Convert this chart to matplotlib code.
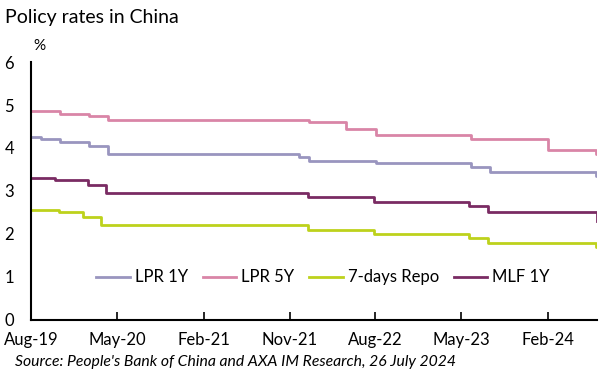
import numpy as np
import pandas as pd
import matplotlib.pyplot as plt
import matplotlib.dates as mdates

plt.rcParams['font.family'] = ['Lato', 'DejaVu Sans']

# change dates and new levels (%) of each policy rate
start = "2019-08-20"
end = "2024-07-26"

lpr1y_dates = [start, "2019-09-20", "2019-11-20", "2020-02-20", "2020-04-20",
               "2021-12-20", "2022-01-20", "2022-08-22", "2023-06-20",
               "2023-08-21", "2024-07-22"]
lpr1y_vals = [4.25, 4.20, 4.15, 4.05, 3.85, 3.80, 3.70, 3.65, 3.55, 3.45, 3.35]

lpr5y_dates = [start, "2019-11-20", "2020-02-20", "2020-04-20", "2022-01-20",
               "2022-05-20", "2022-08-22", "2023-06-20", "2024-02-20",
               "2024-07-22"]
lpr5y_vals = [4.85, 4.80, 4.75, 4.65, 4.60, 4.45, 4.30, 4.20, 3.95, 3.85]

repo_dates = [start, "2019-11-18", "2020-02-03", "2020-03-30", "2022-01-17",
              "2022-08-15", "2023-06-13", "2023-08-15", "2024-07-22"]
repo_vals = [2.55, 2.50, 2.40, 2.20, 2.10, 2.00, 1.90, 1.80, 1.70]

mlf_dates = [start, "2019-11-05", "2020-02-17", "2020-04-15", "2022-01-17",
             "2022-08-15", "2023-06-15", "2023-08-15", "2024-07-25"]
mlf_vals = [3.30, 3.25, 3.15, 2.95, 2.85, 2.75, 2.65, 2.50, 2.30]

series = [
    ("LPR 1Y", lpr1y_dates, lpr1y_vals, "#9995bf"),
    ("LPR 5Y", lpr5y_dates, lpr5y_vals, "#d985a7"),
    ("7-days Repo", repo_dates, repo_vals, "#bdd21c"),
    ("MLF 1Y", mlf_dates, mlf_vals, "#7a2b63"),
]

fig = plt.figure(figsize=(6.15, 3.79), dpi=100)
ax = fig.add_axes([0.0504, 0.1557, 0.9206, 0.6807])

for name, d, v, col in series:
    x = list(pd.to_datetime(d)) + [pd.Timestamp(end)]
    y = list(v) + [v[-1]]
    ax.plot(x, y, drawstyle="steps-post", color=col, lw=2.0, label=name)

ax.set_xlim(pd.Timestamp(start), pd.Timestamp(end))
ax.set_ylim(0, 6)
ax.set_yticks(range(0, 7))

# a tick every 9 months, on the 20th
ticks = pd.date_range("2019-08-01", end, freq="9MS") + pd.Timedelta(days=19)
ax.set_xticks(ticks)
ax.set_xticklabels([t.strftime("%b-%y") for t in ticks])

for s in ["top", "right"]:
    ax.spines[s].set_visible(False)
for s in ["left", "bottom"]:
    ax.spines[s].set_linewidth(1.5)
    ax.spines[s].set_color("black")

ax.tick_params(axis="y", length=0, pad=19, labelsize=12)
for lab in ax.get_yticklabels():
    lab.set_horizontalalignment("left")
ax.tick_params(axis="x", direction="in", length=6, width=1.2, pad=9, labelsize=12)

ax.legend(loc="center", bbox_to_anchor=(0.516, 0.165), ncol=4, frameon=False,
          fontsize=12, handlelength=2.0, handletextpad=0.3, columnspacing=0.9)

fig.text(0.008, 0.955, "Policy rates in China", fontsize=14, va="center")
fig.text(0.054, 0.878, "%", fontsize=11, va="center")
fig.text(0.024, 0.045, "Source: People's Bank of China and AXA IM Research, 26 July 2024",
         fontsize=11.3, style="italic", va="center")

fig.savefig("out.png", dpi=100)
